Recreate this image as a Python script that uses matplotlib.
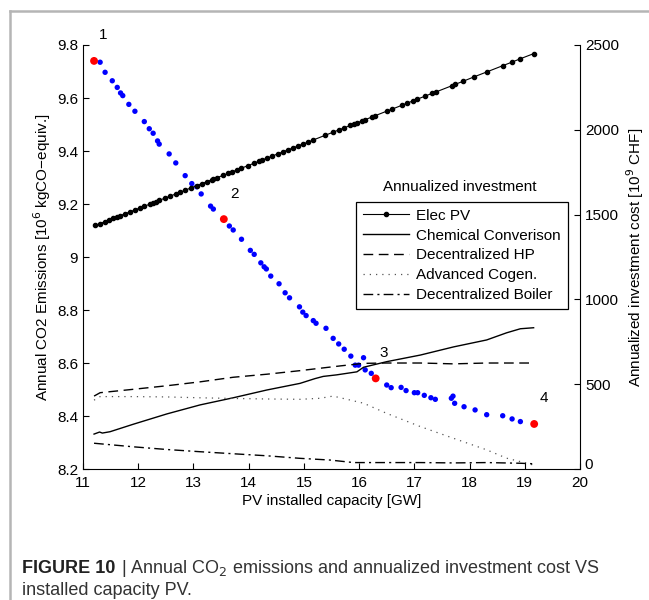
import matplotlib
matplotlib.use("Agg")
import matplotlib.pyplot as plt
import matplotlib.transforms as mtransforms
from matplotlib import font_manager
from matplotlib.lines import Line2D

# --- data ---
# CO2 emissions, left axis [10^6 kgCO-equiv.]
co2_x = [11.31, 11.40, 11.53, 11.62, 11.68, 11.72, 11.83, 11.94, 12.11, 12.20,
         12.27, 12.35, 12.38, 12.56, 12.68, 12.85, 12.97, 13.06, 13.14, 13.31,
         13.36, 13.65, 13.72, 13.87, 14.03, 14.10, 14.22, 14.28, 14.32, 14.40,
         14.55, 14.66, 14.74, 14.92, 14.98, 15.04, 15.17, 15.22, 15.40, 15.53,
         15.63, 15.73, 15.85, 15.93, 15.99, 16.08, 16.11, 16.22, 16.50, 16.58,
         16.76, 16.85, 17.00, 17.06, 17.18, 17.30, 17.38, 17.67, 17.70, 17.73,
         17.90, 18.10, 18.31, 18.60, 18.77, 18.92]
co2_y = [9.735, 9.697, 9.665, 9.640, 9.619, 9.609, 9.576, 9.550, 9.511, 9.484,
         9.467, 9.438, 9.426, 9.389, 9.355, 9.307, 9.277, 9.265, 9.238, 9.192,
         9.181, 9.117, 9.102, 9.067, 9.025, 9.010, 8.978, 8.963, 8.955, 8.928,
         8.899, 8.865, 8.846, 8.812, 8.792, 8.779, 8.760, 8.750, 8.731, 8.693,
         8.672, 8.652, 8.626, 8.592, 8.592, 8.620, 8.574, 8.561, 8.517, 8.507,
         8.508, 8.496, 8.488, 8.488, 8.478, 8.469, 8.463, 8.467, 8.475, 8.448,
         8.435, 8.423, 8.405, 8.401, 8.389, 8.379]
sel_x = [11.20, 13.55, 16.30, 19.17]
sel_y = [9.740, 9.143, 8.542, 8.370]
sel_labels = ["1", "2", "3", "4"]
lab_x = [11.36, 13.74, 16.44, 19.35]
lab_y = [9.838, 9.238, 8.639, 8.467]

# annualized investment, right axis [10^9 CHF]
ep_x = [11.22, 11.31, 11.40, 11.47, 11.55, 11.61, 11.67, 11.76, 11.85, 11.94,
        12.03, 12.11, 12.21, 12.27, 12.33, 12.38, 12.49, 12.58, 12.68, 12.76,
        12.85, 12.96, 13.06, 13.15, 13.24, 13.33, 13.36, 13.42, 13.54, 13.63,
        13.69, 13.78, 13.87, 13.99, 14.09, 14.18, 14.24, 14.33, 14.42, 14.54,
        14.63, 14.72, 14.81, 14.90, 14.99, 15.08, 15.17, 15.38, 15.53, 15.63,
        15.72, 15.84, 15.90, 15.96, 16.05, 16.11, 16.23, 16.29, 16.50, 16.59,
        16.77, 16.86, 16.98, 17.04, 17.20, 17.32, 17.39, 17.68, 17.74, 17.89,
        18.08, 18.31, 18.60, 18.76, 18.92, 19.16]
ep_y = [1436, 1447, 1459, 1467, 1478, 1485, 1493, 1505, 1516, 1528,
        1539, 1549, 1562, 1570, 1577, 1584, 1598, 1609, 1622, 1632,
        1644, 1658, 1671, 1682, 1694, 1705, 1709, 1717, 1732, 1743,
        1751, 1762, 1774, 1789, 1802, 1814, 1821, 1833, 1844, 1860,
        1871, 1883, 1894, 1906, 1917, 1928, 1940, 1967, 1986, 1999,
        2010, 2026, 2033, 2041, 2052, 2060, 2075, 2083, 2110, 2121,
        2144, 2156, 2171, 2179, 2199, 2215, 2223, 2260, 2268, 2287,
        2312, 2341, 2378, 2398, 2419, 2449]

chem_x = [11.20, 11.30, 11.35, 11.49, 11.91, 12.52, 13.12, 13.72, 14.33, 14.93,
          15.20, 15.35, 15.59, 15.96, 16.08, 16.50, 17.11, 17.71, 18.31, 18.67,
          18.92, 19.16]
chem_y = [206, 218, 212, 220, 264, 325, 378, 420, 466, 505,
          533, 546, 555, 573, 600, 633, 672, 720, 761, 803,
          827, 833]

hp_x = [11.20, 11.31, 11.91, 12.52, 13.12, 13.72, 14.33, 14.93, 15.29, 15.66,
        16.08, 16.50, 17.11, 17.71, 18.31, 18.92, 19.16]
hp_y = [430, 450, 470, 491, 514, 541, 559, 580, 594, 608,
        623, 625, 625, 620, 625, 625, 625]

cogen_x = [11.20, 11.31, 11.91, 12.52, 13.12, 13.72, 14.33, 14.93, 15.29, 15.53,
           15.78, 16.08, 16.50, 17.11, 17.71, 18.31, 18.67, 19.04, 19.16]
cogen_y = [406, 427, 427, 425, 420, 416, 413, 411, 417, 430,
           411, 388, 328, 250, 181, 113, 64, 34, 23]

boiler_x = [11.20, 11.91, 12.52, 13.12, 13.72, 14.33, 14.93, 15.47, 15.90, 16.50,
            17.11, 17.71, 18.31, 18.92, 19.16]
boiler_y = [152, 131, 115, 102, 90, 78, 63, 53, 38, 38,
            38, 36, 38, 34, 31]

x_ticks = [11, 12, 13, 14, 15, 16, 17, 18, 19, 20]
left_ticks = [8.2, 8.4, 8.6, 8.8, 9.0, 9.2, 9.4, 9.6, 9.8]
left_ticklabels = ["8.2", "8.4", "8.6", "8.8", "9", "9.2", "9.4", "9.6", "9.8"]
right_ticks = [0, 500, 1000, 1500, 2000, 2500]

names = {f.name for f in font_manager.fontManager.ttflist}
cap_font = "Liberation Sans Narrow" if "Liberation Sans Narrow" in names else "Liberation Sans"

plt.rcParams["font.family"] = ["Liberation Sans", "DejaVu Sans"]
plt.rcParams["font.size"] = 11

fig = plt.figure(figsize=(6.49, 6.0), dpi=100)
ax = fig.add_axes([0.1279, 0.2183, 0.7658, 0.7067])
ax2 = ax.twinx()

# left axis: emissions
ax.scatter(co2_x, co2_y, s=15, color="#0000ff", edgecolors="none", zorder=3)
ax.scatter(sel_x, sel_y, s=32, color="#ff0000", edgecolors="none", zorder=4)
for t, lx, ly in zip(sel_labels, lab_x, lab_y):
    ax.text(lx, ly, t, fontsize=11, ha="center", va="center", clip_on=False)

ax.set_xlim(11, 20)
ax.set_ylim(8.2, 9.8)
ax.set_xticks(x_ticks)
ax.set_yticks(left_ticks)
ax.set_yticklabels(left_ticklabels)
ax.set_xlabel("PV installed capacity [GW]", labelpad=3)
ax.set_ylabel("Annual CO2 Emissions [10$^6$ kgCO\u2212equiv.]", labelpad=3)

# right axis: investment
ax2.plot(ep_x, ep_y, color="black", lw=0.8, marker="o", ms=3, label="Elec PV")
ax2.plot(chem_x, chem_y, color="black", lw=1.0, label="Chemical Converison")
ax2.plot(hp_x, hp_y, color="black", lw=1.0, dashes=(7, 4), label="Decentralized HP")
ax2.plot(cogen_x, cogen_y, color="#555555", lw=0.9, dashes=(1, 4), label="Advanced Cogen.")
ax2.plot(boiler_x, boiler_y, color="black", lw=1.0, dashes=(7, 3, 1.5, 3), label="Decentralized Boiler")
ax2.set_ylim(0, 2500)
ax2.set_yticks(right_ticks)
ax2.set_ylabel("Annualized investment cost [10$^9$ CHF]", labelpad=4)

for a in (ax, ax2):
    a.spines["top"].set_visible(False)
    a.tick_params(direction="in", length=4, width=0.8, labelsize=11)
ax.tick_params(axis="x", pad=5)
ax.spines["right"].set_visible(False)
ax2.spines["left"].set_visible(False)
ax2.spines["bottom"].set_visible(False)

# lift the right-axis "0" a little, as in the original
zero_lab = ax2.get_yticklabels()[0]
zero_lab.set_transform(zero_lab.get_transform()
                       + mtransforms.ScaledTranslation(0, 4 / 72, fig.dpi_scale_trans))

leg = ax2.legend(loc="upper left", bbox_to_anchor=(0.549, 0.630), borderaxespad=0,
                 fancybox=False, edgecolor="black", framealpha=1, numpoints=1,
                 handlelength=3.0, handletextpad=0.5, labelspacing=0.38,
                 borderpad=0.45, fontsize=11)
leg.get_frame().set_linewidth(0.9)
ax2.text(0.758, 0.665, "Annualized investment", transform=ax2.transAxes,
         ha="center", va="center", fontsize=11)

# page frame
fig.add_artist(Line2D([0.0154, 1.0], [0.9817, 0.9817], color="#b5b5b5", lw=1.8))
fig.add_artist(Line2D([0.0154, 0.0154], [0.0, 0.9817], color="#b5b5b5", lw=1.8))

# caption
renderer = fig.canvas.get_renderer()
t1 = fig.text(0.034, 0.053, "FIGURE 10", fontsize=13, fontweight="bold",
              family=cap_font, va="center", color="#222222")
bb = t1.get_window_extent(renderer)
x_next = (bb.x1 + 1) / fig.bbox.width
fig.text(x_next, 0.053, " | Annual CO$_2$ emissions and annualized investment cost VS",
         fontsize=13, family=cap_font, va="center", color="#333333")
fig.text(0.034, 0.016, "installed capacity PV.", fontsize=13, family=cap_font,
         va="center", color="#333333")

fig.savefig("out.png", dpi=100)
